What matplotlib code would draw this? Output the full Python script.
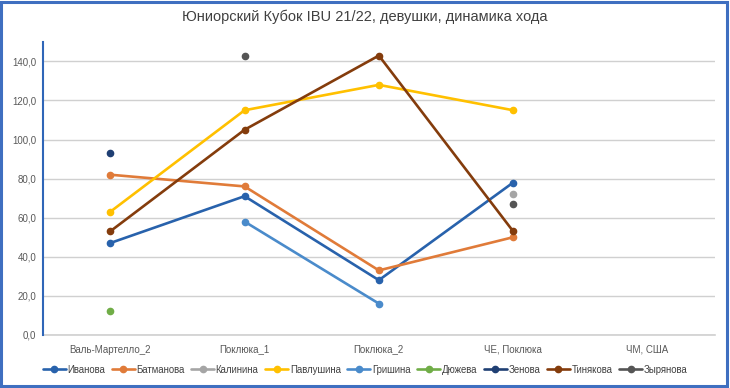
import numpy as np
import matplotlib.pyplot as plt
from matplotlib.patches import Rectangle
from matplotlib.ticker import FuncFormatter

plt.rcParams['font.family'] = ['Liberation Sans', 'DejaVu Sans']

stages = ['Валь-Мартелло_2', 'Поклюка_1', 'Поклюка_2', 'ЧЕ, Поклюка', 'ЧМ, США']
nan = np.nan

ivanova = [47, 71, 28, 78, nan]
batmanova = [82, 76, 33, 50, nan]
kalinina = [nan, nan, nan, 72, nan]
pavlushina = [63, 115, 128, 115, nan]
grishina = [nan, 58, 16, nan, nan]
dyuzheva = [12, nan, nan, nan, nan]
zenova = [93, nan, nan, nan, nan]
tinyakova = [53, 105, 143, 53, nan]
zyryanova = [nan, 143, nan, 67, nan]

series = [
    ('Иванова', ivanova, '#2862AC'),
    ('Батманова', batmanova, '#E07B39'),
    ('Калинина', kalinina, '#A5A5A5'),
    ('Павлушина', pavlushina, '#FFC000'),
    ('Гришина', grishina, '#4A8BCB'),
    ('Дюжева', dyuzheva, '#70AD47'),
    ('Зенова', zenova, '#1F3F73'),
    ('Тинякова', tinyakova, '#843C0C'),
    ('Зырянова', zyryanova, '#555555'),
]

fig = plt.figure(figsize=(7.3, 3.88), dpi=100)
ax = fig.add_axes([0.059, 0.137, 0.920, 0.755])

x = np.arange(len(stages))
for name, vals, col in series:
    ax.plot(x, vals, color=col, lw=1.9, marker='o', ms=4.5, label=name,
            solid_capstyle='round')

ax.set_xlim(-0.5, len(stages) - 0.5)
ax.set_ylim(0, 150)
ax.set_yticks(np.arange(0, 141, 20))
ax.yaxis.set_major_formatter(FuncFormatter(lambda v, p: f'{v:.1f}'.replace('.', ',')))
ax.set_xticks(x)
ax.set_xticklabels(stages)
ax.grid(axis='y', color='#D0D0D0', lw=1)
ax.axhline(0, color='#D0D0D0', lw=1.2, zorder=0, clip_on=False)
ax.set_axisbelow(True)
ax.tick_params(length=0, labelsize=7.0, colors='#595959')
ax.tick_params(axis='x', pad=7)
ax.tick_params(axis='y', pad=5)
for s in ['top', 'right', 'bottom']:
    ax.spines[s].set_visible(False)
ax.spines['left'].set_color('#2F66B8')
ax.spines['left'].set_linewidth(1.5)

fig.suptitle('Юниорский Кубок IBU 21/22, девушки, динамика хода', y=0.975,
             fontsize=10.5, color='#404040')

handles, labels = ax.get_legend_handles_labels()
fig.legend(handles, labels, loc='center', bbox_to_anchor=(0.50, 0.047), ncol=9,
           frameon=False, fontsize=6.9, handlelength=2.4, handletextpad=0.15,
           columnspacing=0.7, labelcolor='#404040')

fig.patches.append(Rectangle((0.002, 0.004), 0.994, 0.991, transform=fig.transFigure,
                             fill=False, edgecolor='#3F6FC0', lw=2.2))

fig.savefig('out.png', dpi=100)
